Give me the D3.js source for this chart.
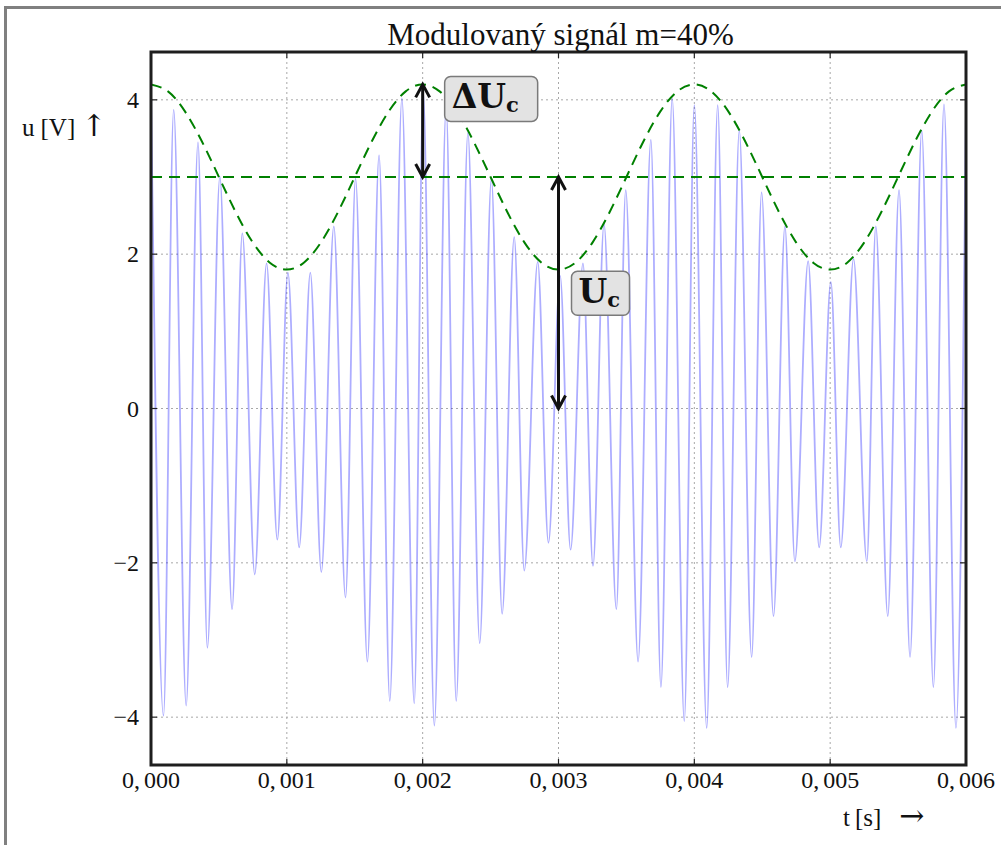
<!DOCTYPE html>
<html>
<head>
<meta charset="utf-8">
<script src="https://cdn.jsdelivr.net/npm/d3@7"></script>
<style>
  body { margin: 0; background: #fff; }
  svg { display: block; }
  text { font-family: "Liberation Serif", "DejaVu Serif", serif; fill: #111; }
</style>
</head>
<body>
<svg id="chart" width="1001" height="845"></svg>
<script>
// AM signal: successive peaks and troughs of the carrier (time in s, voltage in V)
const signalTime = [
  0.000000, 0.000092, 0.000167, 0.000259, 0.000346, 0.000415, 0.000507, 0.000597,
  0.000672, 0.000764, 0.000851, 0.000930, 0.001008, 0.001091, 0.001173, 0.001254,
  0.001346, 0.001432, 0.001506, 0.001593, 0.001679, 0.001758, 0.001847, 0.001938,
  0.002004, 0.002086, 0.002173, 0.002247, 0.002333, 0.002420, 0.002506, 0.002585,
  0.002674, 0.002748, 0.002847, 0.002926, 0.003012, 0.003089, 0.003180, 0.003254,
  0.003335, 0.003426, 0.003495, 0.003586, 0.003680, 0.003754, 0.003837, 0.003926,
  0.004000, 0.004091, 0.004172, 0.004245, 0.004331, 0.004422, 0.004495, 0.004583,
  0.004667, 0.004740, 0.004838, 0.004919, 0.005005, 0.005078, 0.005172, 0.005270,
  0.005336, 0.005424, 0.005507, 0.005588, 0.005674, 0.005760, 0.005838, 0.005926,
  0.006000
];
const signalU = [
   4.15, -3.98,  3.87, -3.85,  3.45, -3.10,  3.00, -2.60,
   2.27, -2.15,  1.88, -1.70,  1.76, -1.80,  1.76, -2.12,
   2.36, -2.45,  2.98, -3.28,  3.28, -3.79,  4.02, -3.82,
   4.10, -4.11,  3.90, -3.79,  3.57, -3.04,  2.98, -2.66,
   2.22, -2.10,  1.90, -1.74,  1.72, -1.83,  1.88, -2.04,
   2.39, -2.60,  2.83, -3.28,  3.48, -3.61,  4.02, -4.05,
   3.93, -4.14,  3.93, -3.61,  3.60, -3.22,  2.80, -2.69,
   2.36, -1.98,  1.91, -1.80,  1.64, -1.80,  1.94, -1.98,
   2.36, -2.69,  2.83, -3.22,  3.60, -3.61,  3.94, -4.14,
   3.90
];

// Upper envelope of the modulated signal
const envelopeTime = [
  0.000000, 0.000125, 0.000250, 0.000375, 0.000500, 0.000625, 0.000750, 0.000875,
  0.001000, 0.001125, 0.001250, 0.001375, 0.001500, 0.001625, 0.001750, 0.001875,
  0.002000, 0.002125, 0.002250, 0.002375, 0.002500, 0.002625, 0.002750, 0.002875,
  0.003000, 0.003125, 0.003250, 0.003375, 0.003500, 0.003625, 0.003750, 0.003875,
  0.004000, 0.004125, 0.004250, 0.004375, 0.004500, 0.004625, 0.004750, 0.004875,
  0.005000, 0.005125, 0.005250, 0.005375, 0.005500, 0.005625, 0.005750, 0.005875,
  0.006000
];
const envelopeU = [
  4.20, 4.11, 3.85, 3.46, 3.00, 2.54, 2.15, 1.89,
  1.80, 1.89, 2.15, 2.54, 3.00, 3.46, 3.85, 4.11,
  4.20, 4.11, 3.85, 3.46, 3.00, 2.54, 2.15, 1.89,
  1.80, 1.89, 2.15, 2.54, 3.00, 3.46, 3.85, 4.11,
  4.20, 4.11, 3.85, 3.46, 3.00, 2.54, 2.15, 1.89,
  1.80, 1.89, 2.15, 2.54, 3.00, 3.46, 3.85, 4.11,
  4.20
];

// Carrier amplitude U_c
const carrierLevel = 3.0;

// Axis ticks
const xTicks = [0, 0.001, 0.002, 0.003, 0.004, 0.005, 0.006];
const xTickLabels = ["0,000", "0,001", "0,002", "0,003", "0,004", "0,005", "0,006"];
const yTicks = [-4, -2, 0, 2, 4];
const yTickLabels = ["\u22124", "\u22122", "0", "2", "4"];

// Double arrows: time, start and end voltage, label
const arrowTime = [0.002, 0.003];
const arrowFrom = [3.0, 0.0];
const arrowTo = [4.2, 3.0];
const arrowLabel = ["\u0394U", "U"];

const titleText = "Modulovaný signál m=40%";

const svg = d3.select("#chart");
const W = 1001, H = 845;
const plot = { left: 151, right: 966, top: 52, bottom: 765 };

const x = d3.scaleLinear().domain([0, 0.006]).range([plot.left, plot.right]);
const y = d3.scaleLinear().domain([-4.62, 4.62]).range([plot.bottom, plot.top]);

// page frame
svg.append("path")
  .attr("d", `M5.5,${H} L5.5,7.5 L${W},7.5`)
  .attr("fill", "none").attr("stroke", "#808080").attr("stroke-width", 3);

svg.append("defs").append("clipPath").attr("id", "plotClip")
  .append("rect")
  .attr("x", plot.left).attr("y", plot.top)
  .attr("width", plot.right - plot.left).attr("height", plot.bottom - plot.top);

// grid
const grid = svg.append("g").attr("stroke", "#a8a8a8").attr("stroke-width", 1)
  .attr("stroke-dasharray", "2,3");
grid.selectAll("line.gx").data(xTicks).join("line").attr("class", "gx")
  .attr("x1", d => x(d)).attr("x2", d => x(d))
  .attr("y1", plot.top).attr("y2", plot.bottom);
grid.selectAll("line.gy").data(yTicks).join("line").attr("class", "gy")
  .attr("y1", d => y(d)).attr("y2", d => y(d))
  .attr("x1", plot.left).attr("x2", plot.right);

const plotArea = svg.append("g").attr("clip-path", "url(#plotClip)");

// modulated signal
const signalPts = signalTime.map((t, i) => [t, signalU[i]]);
plotArea.append("path")
  .datum(signalPts)
  .attr("fill", "none")
  .attr("stroke", "#0000ff").attr("stroke-opacity", 0.32)
  .attr("stroke-width", 1.8)
  .attr("d", d3.line().x(d => x(d[0])).y(d => y(d[1])).curve(d3.curveMonotoneX));

// envelope and carrier level
const envPts = envelopeTime.map((t, i) => [t, envelopeU[i]]);
plotArea.append("path")
  .datum(envPts)
  .attr("fill", "none").attr("stroke", "#008000").attr("stroke-width", 2)
  .attr("stroke-dasharray", "11,7")
  .attr("d", d3.line().x(d => x(d[0])).y(d => y(d[1])).curve(d3.curveNatural));
plotArea.append("line")
  .attr("x1", x(0)).attr("x2", x(0.006))
  .attr("y1", y(carrierLevel)).attr("y2", y(carrierLevel))
  .attr("stroke", "#008000").attr("stroke-width", 2).attr("stroke-dasharray", "11,7");

// double arrows
arrowTime.forEach((t, i) => {
  const ax = x(t), y0 = y(arrowFrom[i]), y1 = y(arrowTo[i]);
  const g = svg.append("g").attr("stroke", "#111").attr("fill", "none")
    .attr("stroke-width", 3).attr("stroke-linejoin", "miter");
  g.append("line").attr("x1", ax).attr("x2", ax).attr("y1", y0 - 1).attr("y2", y1 + 1);
  g.append("path").attr("d", `M${ax - 7},${y1 + 13} L${ax},${y1} L${ax + 7},${y1 + 13}`);
  g.append("path").attr("d", `M${ax - 7},${y0 - 13} L${ax},${y0} L${ax + 7},${y0 - 13}`);
});

// labelled boxes next to the arrows
function labelBox(bx, by, bw, bh, label) {
  const g = svg.append("g");
  g.append("rect").attr("x", bx).attr("y", by).attr("width", bw).attr("height", bh)
    .attr("rx", 6).attr("ry", 6)
    .attr("fill", "#e3e3e3").attr("stroke", "#7a7a7a").attr("stroke-width", 1.5);
  const t = g.append("text")
    .attr("x", bx + 7).attr("y", by + 32)
    .style("font-family", "'DejaVu Serif', serif")
    .style("font-weight", "bold").style("font-size", "33px");
  t.append("tspan").text(label);
  t.append("tspan").attr("dy", 4).style("font-size", "21px").text("c");
}
labelBox(x(arrowTime[0]) + 22, y(arrowTo[0]) - 8, 93, 45, arrowLabel[0]);
labelBox(x(arrowTime[1]) + 13, y(2.0) + 17, 58, 44, arrowLabel[1]);

// ticks (inward on all four sides)
const ticks = svg.append("g").attr("stroke", "#222").attr("stroke-width", 1.2);
xTicks.forEach(t => {
  ticks.append("line").attr("x1", x(t)).attr("x2", x(t)).attr("y1", plot.bottom).attr("y2", plot.bottom - 6);
  ticks.append("line").attr("x1", x(t)).attr("x2", x(t)).attr("y1", plot.top).attr("y2", plot.top + 6);
});
yTicks.forEach(v => {
  ticks.append("line").attr("y1", y(v)).attr("y2", y(v)).attr("x1", plot.left).attr("x2", plot.left + 6);
  ticks.append("line").attr("y1", y(v)).attr("y2", y(v)).attr("x1", plot.right).attr("x2", plot.right - 6);
});

// axes frame
svg.append("rect")
  .attr("x", plot.left).attr("y", plot.top)
  .attr("width", plot.right - plot.left).attr("height", plot.bottom - plot.top)
  .attr("fill", "none").attr("stroke", "#1e1e1e").attr("stroke-width", 3);

// tick labels
svg.append("g").selectAll("text").data(xTicks).join("text")
  .attr("x", d => x(d)).attr("y", plot.bottom + 23)
  .attr("text-anchor", "middle").style("font-size", "24px")
  .each(function (d, i) {
    const parts = xTickLabels[i].split(",");
    const el = d3.select(this);
    el.append("tspan").text(parts[0] + ",");
    el.append("tspan").attr("dx", 4).text(parts[1]);
  });
svg.append("g").selectAll("text").data(yTicks).join("text")
  .attr("x", plot.left - 12).attr("y", d => y(d) + 8)
  .attr("text-anchor", "end").style("font-size", "24px")
  .text((d, i) => yTickLabels[i]);

// title and axis labels
svg.append("text").attr("x", (plot.left + plot.right) / 2 + 2).attr("y", 45)
  .attr("text-anchor", "middle").style("font-size", "31px").text(titleText);

const arrowFont = "'DejaVu Serif', serif";
const yl = svg.append("text").attr("x", 22).attr("y", 136).style("font-size", "25px");
yl.append("tspan").text("u");
yl.append("tspan").attr("dx", 6).text("[V]");
yl.append("tspan").attr("dx", 6).style("font-family", arrowFont).style("font-size", "30px")
  .text("\u2191");

const xl = svg.append("text").attr("x", 843).attr("y", 826).style("font-size", "25px");
xl.append("tspan").text("t");
xl.append("tspan").attr("dx", 5).text("[s]");
xl.append("tspan").attr("dx", 18).style("font-family", arrowFont).style("font-size", "30px")
  .text("\u2192");
</script>
</body>
</html>
